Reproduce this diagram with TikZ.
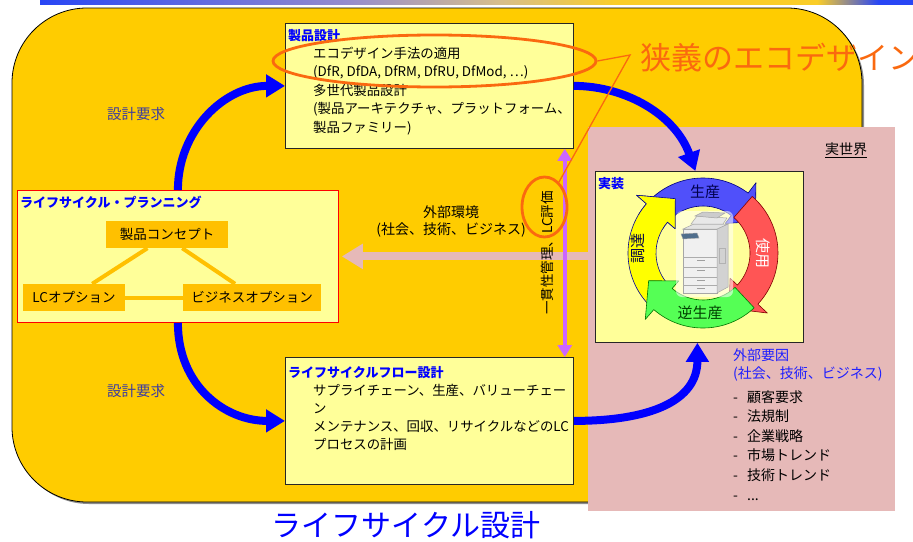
\documentclass[tikz,border=0pt]{standalone}
\usepackage{fontspec}
\setmainfont{Noto Sans CJK JP}
\usetikzlibrary{arrows.meta,shapes.geometric,calc}

\definecolor{bgyellow}{HTML}{FFCC00}
\definecolor{paleyellow}{HTML}{FFFF99}
\definecolor{optfill}{HTML}{FFC000}
\definecolor{worldpink}{HTML}{E6B9B8}
\definecolor{calloutorange}{RGB}{250,105,15}
\definecolor{flowblue}{HTML}{0000FF}
\definecolor{linkpurple}{HTML}{CC66FF}
\definecolor{reqblue}{RGB}{60,60,160}
\definecolor{factorblue}{RGB}{30,30,255}
\definecolor{ringblue}{RGB}{80,80,250}
\definecolor{ringred}{RGB}{255,85,85}
\definecolor{ringgreen}{RGB}{85,255,85}
\definecolor{ringyellow}{RGB}{255,255,0}
\definecolor{barblue}{RGB}{40,70,245}
\definecolor{barlav}{RGB}{150,140,205}
\definecolor{bartan}{RGB}{215,190,140}
\definecolor{bargold}{RGB}{250,205,40}

% header rule: blue -> lavender -> tan -> gold -> blue
\pgfdeclarehorizontalshading{headerbar}{100bp}{%
  color(0bp)=(barblue); color(25bp)=(barblue); color(42.7bp)=(barlav);
  color(51.3bp)=(bartan); color(58bp)=(bargold); color(69.5bp)=(bargold);
  color(73bp)=(barblue); color(100bp)=(barblue)}

% one segment of the life-cycle ring: tail angle, head base angle, tip angle, fill, edge
\newcommand\cyclearrow[5]{%
  \filldraw[fill=#4, draw=#5, line width=0.6pt, line join=round]
    (#1:75) arc[start angle=#1, end angle=#2, radius=75] -- (#2:88) -- (#3:61)
    -- (#2:37) -- (#2:47) arc[start angle=#2, end angle=#1, radius=47] -- cycle;}

\begin{document}
\begin{tikzpicture}[x=1pt, y=-1pt,
  panel/.style={draw=black!85, line width=0.8pt, fill=paleyellow, anchor=north west, inner sep=0pt},
  paneltitle/.style={font=\fontsize{13}{16}\selectfont\bfseries, text=flowblue, anchor=base west, inner sep=0pt},
  paneltext/.style={font=\fontsize{13.4}{18.5}\selectfont, align=left, anchor=base west, inner sep=0pt},
  optbox/.style={fill=optfill, inner sep=0pt, minimum height=27pt, font=\fontsize{13.5}{16}\selectfont},
  optlink/.style={draw=optfill, line width=4pt},
  flowarrow/.style={draw=flowblue, line width=8pt, -{Triangle[length=19pt,width=22pt]}},
  envarrow/.style={draw=worldpink, line width=8pt, -{Triangle[length=21pt,width=24pt]}},
  linkarrow/.style={draw=linkpurple, line width=4pt, {Triangle[length=12pt,width=14pt]}-{Triangle[length=12pt,width=14pt]}},
  callout/.style={draw=calloutorange, line width=1.3pt},
  oval/.style={draw=calloutorange, line width=2.8pt, ellipse, inner sep=0pt},
  plain/.style={font=\fontsize{14}{18}\selectfont, inner sep=0pt},
  ringlabel/.style={font=\fontsize{15}{18}\selectfont, inner sep=0pt},
]
\useasboundingbox (0,0) rectangle (913,541);

% header rule
\shade[shading=headerbar] (40,0) rectangle (913,4);

% life-cycle design area
\fill[black!45, rounded corners=75pt] (14,10) rectangle (864,504);
\draw[fill=bgyellow, draw=black, line width=0.8pt, rounded corners=75pt] (12,8) rectangle (862,502);

% real world
\node[fill=worldpink, minimum width=307pt, minimum height=384pt, anchor=north west, inner sep=0pt] (world) at (588,127) {};

% panels
\node[panel, minimum width=288pt, minimum height=125pt] (prod) at (285,23) {};
\node[panel, draw=red, minimum width=321pt, minimum height=132pt] (plan) at (17,190) {};
\node[panel, minimum width=288pt, minimum height=127pt] (flow) at (285,357) {};
\node[panel, minimum width=208pt, minimum height=171pt] (impl) at (595,171) {};

% product design (multi-line text is anchored at the baseline of its last line)
\node[paneltitle] (prodtitle) at (288,40) {製品設計};
\node[paneltext] (prodtext) at (313,132) {エコデザイン手法の適用\\(DfR, DfDA, DfRM, DfRU, DfMod, ⋯)\\多世代製品設計\\(製品アーキテクチャ、プラットフォーム、\\製品ファミリー)};

% life-cycle planning
\node[paneltitle] (plantitle) at (20,207) {ライフサイクル・プランニング};
\node[optbox, minimum width=122pt] (concept) at (167,234.5) {製品コンセプト};
\node[optbox, minimum width=102pt] (lcopt) at (74,297.5) {LCオプション};
\node[optbox, minimum width=138pt] (bizopt) at (252,297.5) {ビジネスオプション};
\draw[optlink] (concept.215) -- (lcopt.37);
\draw[optlink] (concept.318) -- (bizopt.141);
\draw[optlink] (lcopt.east) -- (bizopt.west);

% life-cycle flow design
\node[paneltitle] (flowtitle) at (288,377) {ライフサイクルフロー設計};
\node[paneltext, font=\fontsize{13.4}{18}\selectfont] (flowtext) at (313,449) {サプライチェーン、生産、バリューチェー\\ン\\メンテナンス、回収、リサイクルなどのLC\\プロセスの計画};

% implementation
\node[paneltitle] (impltitle) at (598,188) {実装};

% flows between panels
\draw[flowarrow] (plan.north) .. controls +(0,-60) and +(-60,0) .. (prod.west);
\draw[flowarrow] (plan.south) .. controls +(0,63) and +(-60,0) .. (flow.west);
\draw[flowarrow] (prod.east) .. controls +(52,0) and +(-20,-56) .. ($(impl.north)+(-4,0)$);
\draw[flowarrow] (flow.east) .. controls +(77,0) and +(0,58) .. ($(impl.south)+(-2,0)$);

\node[plain, text=reqblue, font=\fontsize{14.5}{18}\selectfont] (req1) at (136,114) {設計要求};
\node[plain, text=reqblue, font=\fontsize{14.5}{18}\selectfont] (req2) at (136,391) {設計要求};

% external environment
\draw[envarrow] (world.west |- plan.east) -- ($(plan.east)+(3,0)$);
\node[plain] (envhead) at (451,212) {外部環境};
\node[plain] (envsub) at (451,230) {(社会、技術、ビジネス)};

% consistency management link
\draw[linkarrow] ($(prod.south east)+(-9,0)$) -- ($(flow.north east)+(-9,0)$);
\node[plain, font=\fontsize{13.5}{16}\selectfont, rotate=90] (consist) at (547,253) {一貫性管理、LC評価};

% real-world side
\node[plain] (worldlabel) at (846,150) {\underline{実世界}};
\node[plain, text=factorblue, anchor=base west] (facthead) at (733,360) {外部要因};
\node[plain, text=factorblue, anchor=base west] (factsub) at (733,378) {(社会、技術、ビジネス)};
\foreach \entry [count=\k] in {顧客要求, 法規制, 企業戦略, 市場トレンド, 技術トレンド} {
  \node[plain, anchor=base west] (dash\k) at (733,{402+19.6*(\k-1)}) {-};
  \node[plain, anchor=base west] (fact\k) at (747,{402+19.6*(\k-1)}) {\entry};
}
\node[plain, anchor=base west] (dash6) at (733,500) {-};
\node[plain, anchor=base west] (fact6) at (747,500) {...};

% life-cycle ring with a copier at its centre
\begin{scope}[shift={(703,253)}, y=1pt]
  \cyclearrow{-135}{-221}{-243}{ringyellow}{blue!60!black}
  \cyclearrow{135}{53}{31}{ringblue}{blue!50!black}
  \cyclearrow{49}{-43}{-65}{ringred}{red!50!black}
  \cyclearrow{-47}{-131}{-153}{ringgreen}{green!45!black}
  % yellow head lies over the blue tail
  \fill[ringyellow] (-210:75) arc[start angle=-210, end angle=-221, radius=75] -- (-221:88) -- (-243:61)
    -- (-221:37) -- (-221:47) arc[start angle=-221, end angle=-210, radius=47] -- cycle;
  \draw[blue!60!black, line width=0.6pt, line join=round] (-210:75) arc[start angle=-210, end angle=-221, radius=75] -- (-221:88) -- (-243:61)
    -- (-221:37) -- (-221:47) arc[start angle=-221, end angle=-210, radius=47];
  \node[ringlabel, text=blue!30!black] (make) at (2,61) {生産};
  \node[ringlabel, text=white, rotate=-90] (use) at (60,0) {使用};
  \node[ringlabel, text=green!25!black] (unmake) at (-3,-60) {逆生産};
  \node[ringlabel, text=blue!30!black, rotate=90] (procure) at (-65,5) {調達};
  % copier
  \fill[white, opacity=0.55, rounded corners=6pt] (-27,-44) rectangle (30,42);
  \filldraw[fill=gray!12, draw=gray!70, line width=0.5pt] (-20,-40) rectangle (14,24);
  \filldraw[fill=gray!35, draw=gray!70, line width=0.5pt] (14,-40) -- (25,-34) -- (25,29) -- (14,24) -- cycle;
  \filldraw[fill=gray!22, draw=gray!70, line width=0.5pt] (-20,24) -- (14,24) -- (25,29) -- (-9,29) -- cycle;
  \filldraw[fill=gray!18, draw=gray!70, line width=0.5pt] (-12,29) -- (20,29) -- (24,35) -- (-6,37) -- cycle;
  \filldraw[fill=gray!40, draw=gray!70, line width=0.5pt] (-8,37) -- (14,35) -- (22,40) -- (0,41) -- cycle;
  \filldraw[fill={rgb,255:red,80;green,110;blue,140}, draw=gray!70, line width=0.4pt] (-22,19) -- (-6,20) -- (-4,15) -- (-20,14) -- cycle;
  \foreach \yy in {-4,-14,-24,-32} {
    \draw[gray!65, line width=0.6pt] (-20,\yy) -- (14,\yy);
    \draw[gray!75, line width=0.8pt] (-6,\yy-3) -- (2,\yy-3);
  }
  \draw[gray!60, line width=0.5pt] (16,-10) rectangle (22,5);
\end{scope}

% narrow-sense eco-design callout
\node[oval, minimum width=323pt, minimum height=52pt] (ecoring) at (434.5,61) {};
\node[oval, minimum width=45pt, minimum height=60pt] (lcring) at (544.5,207) {};
\node[inner sep=0pt, anchor=base west, text=calloutorange, font=\fontsize{31}{36}\selectfont] (ecolabel) at (640,69) {狭義のエコデザイン};
\coordinate (elbow) at (630,55);
\draw[callout] (ecoring.east) -- (elbow) -- (lcring.60);

% caption
\node[inner sep=0pt, anchor=base, text=flowblue, font=\fontsize{30}{36}\selectfont] (caption) at (406,536) {ライフサイクル設計};
\end{tikzpicture}
\end{document}
